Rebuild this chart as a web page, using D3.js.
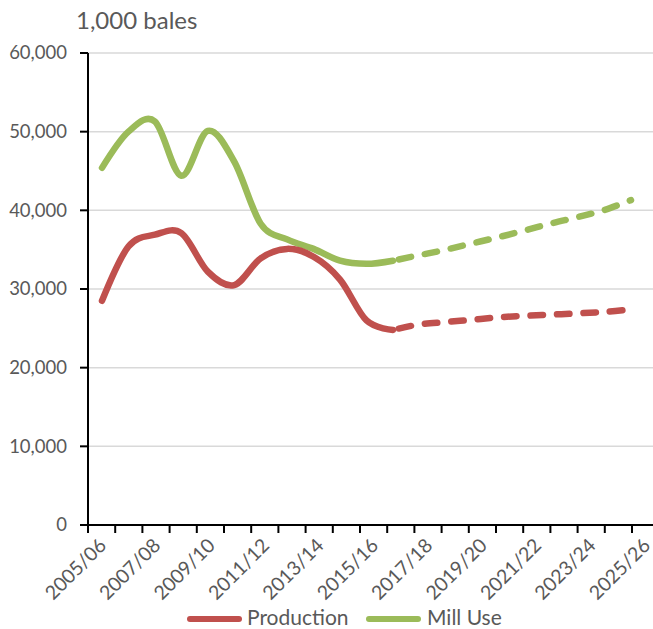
<!DOCTYPE html>
<html lang="en">
<head>
    <meta charset="UTF-8">
    <title>Cotton production and mill use</title>
    <script src="https://cdn.jsdelivr.net/npm/d3@7"></script>
    <style>
        body { margin: 0; background: #fff; }
        text { font-family: Lato, "Open Sans", sans-serif; fill: #595959; }
    </style>
</head>
<body>
<div id="chart"></div>
<script>
    // marketing years on the category axis
    const categories = ["2005/06", "2006/07", "2007/08", "2008/09", "2009/10", "2010/11", "2011/12",
        "2012/13", "2013/14", "2014/15", "2015/16", "2016/17", "2017/18", "2018/19", "2019/20",
        "2020/21", "2021/22", "2022/23", "2023/24", "2024/25", "2025/26"];

    // 1,000 bales
    const production = [28500, 35400, 36900, 37100, 32200, 30500, 33900, 35100, 34100, 31200, 26000,
        24800, 25500, 25800, 26100, 26400, 26600, 26750, 26900, 27100, 27400];
    const millUse = [45400, 50000, 51300, 44400, 50100, 46200, 38300, 36300, 35100, 33600, 33200,
        33600, 34300, 35000, 35800, 36600, 37450, 38350, 39150, 40050, 41300];

    const lastActual = 11; // solid up to here, dashed projection after
    const yTicks = [0, 10000, 20000, 30000, 40000, 50000, 60000];

    const width = 653, height = 629;
    const svg = d3.select("#chart").append("svg")
        .attr("width", width)
        .attr("height", height);

    const y = d3.scaleLinear().domain([0, 60000]).range([525, 53]);
    const xBand = d3.scaleBand().domain(categories).range([88, 88 + 21 * 27.2]);
    const xPt = d3.scalePoint().domain(categories).range([102, 631]);
    const fmt = d3.format(",");

    // gridlines
    svg.append("g")
        .selectAll("line")
        .data(yTicks.slice(1))
        .enter().append("line")
        .attr("x1", 88).attr("x2", width)
        .attr("y1", d => y(d)).attr("y2", d => y(d))
        .attr("stroke", "#d9d9d9")
        .attr("stroke-width", 1.5);

    // y axis
    const yAxis = svg.append("g");
    yAxis.append("line")
        .attr("x1", 88).attr("x2", 88)
        .attr("y1", y(60000)).attr("y2", y(0))
        .attr("stroke", "#000").attr("stroke-width", 2);
    yAxis.selectAll(".tick")
        .data(yTicks)
        .enter().append("line")
        .attr("x1", 80).attr("x2", 88)
        .attr("y1", d => y(d)).attr("y2", d => y(d))
        .attr("stroke", "#000").attr("stroke-width", 2);
    yAxis.selectAll("text")
        .data(yTicks)
        .enter().append("text")
        .attr("x", 67)
        .attr("y", d => y(d))
        .attr("dy", "0.35em")
        .attr("text-anchor", "end")
        .attr("font-size", 18.5)
        .text(d => fmt(d));

    // x axis
    const xAxis = svg.append("g");
    xAxis.append("line")
        .attr("x1", 80).attr("x2", width)
        .attr("y1", y(0)).attr("y2", y(0))
        .attr("stroke", "#000").attr("stroke-width", 2);
    const bounds = categories.map(c => xBand(c)).concat([xBand.range()[1]]);
    xAxis.selectAll(".tick")
        .data(bounds)
        .enter().append("line")
        .attr("x1", d => d).attr("x2", d => d)
        .attr("y1", y(0)).attr("y2", y(0) + 8)
        .attr("stroke", "#000").attr("stroke-width", 2);
    xAxis.selectAll("text")
        .data(categories.filter((c, i) => i % 2 === 0))
        .enter().append("text")
        .attr("transform", d => `translate(${xBand(d) + xBand.bandwidth() / 2 + 1},${y(0) + 17}) rotate(-45)`)
        .attr("text-anchor", "end")
        .attr("dy", "0.35em")
        .attr("font-size", 19.5)
        .text(d => d);

    // title
    svg.append("text")
        .attr("x", 76).attr("y", 29)
        .attr("font-size", 24)
        .text("1,000 bales");

    // lines
    const line = d3.line()
        .x(d => xPt(d.cat))
        .y(d => y(d.v))
        .curve(d3.curveCardinal.tension(0));

    function drawSeries(values, color) {
        const pts = values.map((v, i) => ({cat: categories[i], v: v}));
        svg.append("path")
            .datum(pts.slice(0, lastActual + 1))
            .attr("d", line)
            .attr("fill", "none")
            .attr("stroke", color)
            .attr("stroke-width", 6.5)
            .attr("stroke-linecap", "round")
            .attr("stroke-linejoin", "round");
        svg.append("path")
            .datum(pts.slice(lastActual))
            .attr("d", line)
            .attr("fill", "none")
            .attr("stroke", color)
            .attr("stroke-width", 6.5)
            .attr("stroke-linecap", "round")
            .attr("stroke-dasharray", "12.5,14")
            .attr("stroke-dashoffset", -6);
    }
    drawSeries(millUse, "#9bbb59");
    drawSeries(production, "#c0504d");

    // legend
    const legend = [["Production", "#c0504d", 187, 247], ["Mill Use", "#9bbb59", 366, 427]];
    const lg = svg.append("g");
    lg.selectAll("line")
        .data(legend)
        .enter().append("line")
        .attr("x1", d => d[2] + 3).attr("x2", d => d[2] + 52)
        .attr("y1", 619).attr("y2", 619)
        .attr("stroke", d => d[1])
        .attr("stroke-width", 6)
        .attr("stroke-linecap", "round");
    lg.selectAll("text")
        .data(legend)
        .enter().append("text")
        .attr("x", d => d[3])
        .attr("y", 625)
        .attr("font-size", 21)
        .text(d => d[0]);
</script>
</body>
</html>
